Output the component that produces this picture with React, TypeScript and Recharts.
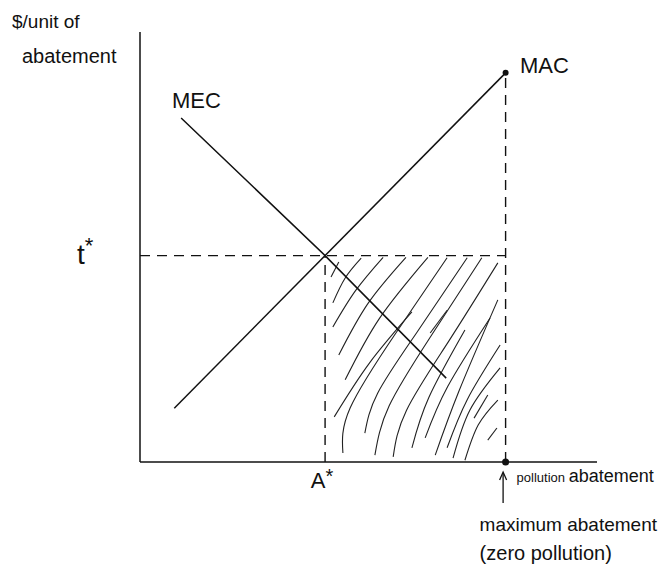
import { ComposedChart, Line, XAxis, YAxis, ReferenceDot } from "recharts";

// quantities in chart units (0-100 on both axes)
const A_STAR = 40.5;
const T_STAR = 48;
const MAX_ABATEMENT = 80;
const MAC_AT_MAX = 90.5;

const macPoints = [
  { x: 7.5, y: 12.5 },
  { x: MAX_ABATEMENT, y: MAC_AT_MAX },
];

const mecPoints = [
  { x: 9, y: 80 },
  { x: A_STAR, y: T_STAR },
  { x: 67, y: 19.5 },
];

const xTicks = [A_STAR, MAX_ABATEMENT];
const yTicks = [T_STAR];

// freehand shading between A* and maximum abatement, under t*
const hatchStrokes: number[][][] = [
  [[41.8, 43.0], [43.5, 46.5]],
  [[42.2, 37.0], [44.9, 42.8], [48.4, 47.4]],
  [[42.2, 31.4], [47.2, 39.9], [53.2, 47.6]],
  [[43.5, 24.9], [49.9, 36.9], [58.2, 47.6]],
  [[44.9, 19.1], [52.4, 33.4], [63.0, 47.6]],
  [[42.5, 10.5], [50.2, 23.0], [59.5, 34.9]],
  [[44.4, 2.1], [46.0, 12.6], [56.0, 30.0], [67.2, 47.5]],
  [[49.2, 6.7], [52.0, 16.0], [60.5, 30.0], [71.6, 47.5]],
  [[51.4, 1.6], [54.5, 13.0], [63.5, 29.0], [74.8, 47.5]],
  [[55.4, 1.2], [58.3, 12.0], [67.5, 28.0], [78.3, 46.3]],
  [[59.5, 3.3], [63.2, 15.0], [71.1, 30.7]],
  [[62.4, 5.6], [67.3, 17.5], [76.6, 33.5]],
  [[64.6, 1.6], [69.8, 16.5], [78.3, 37.7]],
  [[67.2, 3.3], [71.6, 14.5], [78.8, 27.2]],
  [[68.5, 0.9], [72.2, 12.1], [78.8, 21.9]],
  [[71.1, 0.4], [74.0, 8.6], [78.3, 14.4]],
  [[76.1, 5.1], [78.1, 7.9]],
  [[73.1, 10.2], [76.1, 15.6]],
  [[63.5, 30.0], [67.2, 35.3]],
];

const INK = "#111";
const FONT = "'Liberation Sans', 'DejaVu Sans', sans-serif";

const toPoints = (stroke: number[][]) => stroke.map(([x, y]) => ({ x, y }));

function XTick({ x, y, payload }: any) {
  if (payload.value === A_STAR) {
    return (
      <text x={x - 3} y={y + 26} textAnchor="middle" fontSize={22} fill={INK} fontFamily={FONT}>
        A<tspan fontSize={20} dy={-5}>*</tspan>
      </text>
    );
  }
  // arrow and notes under maximum abatement
  const ax = x - 2.5;
  return (
    <g fill={INK} fontFamily={FONT}>
      <line x1={ax} y1={y + 41} x2={ax} y2={y + 11} stroke={INK} strokeWidth={1.3} />
      <path d={`M${ax - 3.5},${y + 18} L${ax},${y + 10} L${ax + 3.5},${y + 18}`} fill="none" stroke={INK} strokeWidth={1.3} />
      <text x={x + 11} y={y + 20} fontSize={13}>
        pollution <tspan fontSize={18}>abatement</tspan>
      </text>
      <text x={x - 26} y={y + 69} fontSize={19}>
        maximum abatement
      </text>
      <text x={x - 26} y={y + 98} fontSize={20}>
        (zero pollution)
      </text>
    </g>
  );
}

function YTick({ x, y }: any) {
  return (
    <text x={x - 63} y={y + 8} fontSize={28} fill={INK} fontFamily={FONT}>
      t<tspan fontSize={22} dy={-11}>*</tspan>
    </text>
  );
}

export default function App() {
  return (
    <div style={{ position: "absolute", left: 0, top: 0, background: "#fff" }}>
      <ComposedChart width={660} height={572} margin={{ top: 32, right: 63, bottom: 80, left: 80 }}>
        <XAxis
          dataKey="x"
          type="number"
          domain={[0, 100]}
          ticks={xTicks}
          interval={0}
          tickLine={false}
          tickSize={0}
          tickMargin={0}
          height={30}
          axisLine={{ stroke: INK, strokeWidth: 1.5 }}
          tick={<XTick />}
        />
        <YAxis
          type="number"
          domain={[0, 100]}
          ticks={yTicks}
          interval={0}
          tickLine={false}
          tickSize={0}
          tickMargin={0}
          width={60}
          axisLine={{ stroke: INK, strokeWidth: 1.5 }}
          tick={<YTick />}
        />

        {hatchStrokes.map((stroke, i) => (
          <Line
            key={`hatch-${i}`}
            data={toPoints(stroke)}
            dataKey="y"
            type="natural"
            stroke="#222"
            strokeWidth={1.1}
            dot={false}
            activeDot={false}
            isAnimationActive={false}
          />
        ))}

        <Line
          data={[{ x: 0, y: T_STAR }, { x: MAX_ABATEMENT, y: T_STAR }]}
          dataKey="y"
          type="linear"
          stroke={INK}
          strokeWidth={1.4}
          strokeDasharray="10 7"
          dot={false}
          activeDot={false}
          isAnimationActive={false}
        />
        <Line
          data={[{ x: A_STAR, y: 0 }, { x: A_STAR, y: T_STAR }]}
          dataKey="y"
          type="linear"
          stroke={INK}
          strokeWidth={1.4}
          strokeDasharray="10 7"
          dot={false}
          activeDot={false}
          isAnimationActive={false}
        />
        <Line
          data={[{ x: MAX_ABATEMENT, y: 0 }, { x: MAX_ABATEMENT, y: MAC_AT_MAX }]}
          dataKey="y"
          type="linear"
          stroke={INK}
          strokeWidth={1.4}
          strokeDasharray="10 7"
          dot={false}
          activeDot={false}
          isAnimationActive={false}
        />

        <Line
          data={macPoints}
          dataKey="y"
          type="linear"
          stroke={INK}
          strokeWidth={1.5}
          dot={false}
          activeDot={false}
          isAnimationActive={false}
        />
        <Line
          data={mecPoints}
          dataKey="y"
          type="linear"
          stroke={INK}
          strokeWidth={1.5}
          dot={false}
          activeDot={false}
          isAnimationActive={false}
        />

        <ReferenceDot x={MAX_ABATEMENT} y={MAC_AT_MAX} r={3} fill={INK} stroke="none" />
        <ReferenceDot x={MAX_ABATEMENT} y={0} r={3.5} fill={INK} stroke="none" />

        <text x={12} y={28} fontSize={19} fill={INK} fontFamily={FONT}>
          $/unit of
        </text>
        <text x={22} y={63} fontSize={20} fill={INK} fontFamily={FONT}>
          abatement
        </text>
        <text x={172} y={108} fontSize={22} fill={INK} fontFamily={FONT}>
          MEC
        </text>
        <text x={520} y={73} fontSize={22} fill={INK} fontFamily={FONT}>
          MAC
        </text>
      </ComposedChart>
    </div>
  );
}
